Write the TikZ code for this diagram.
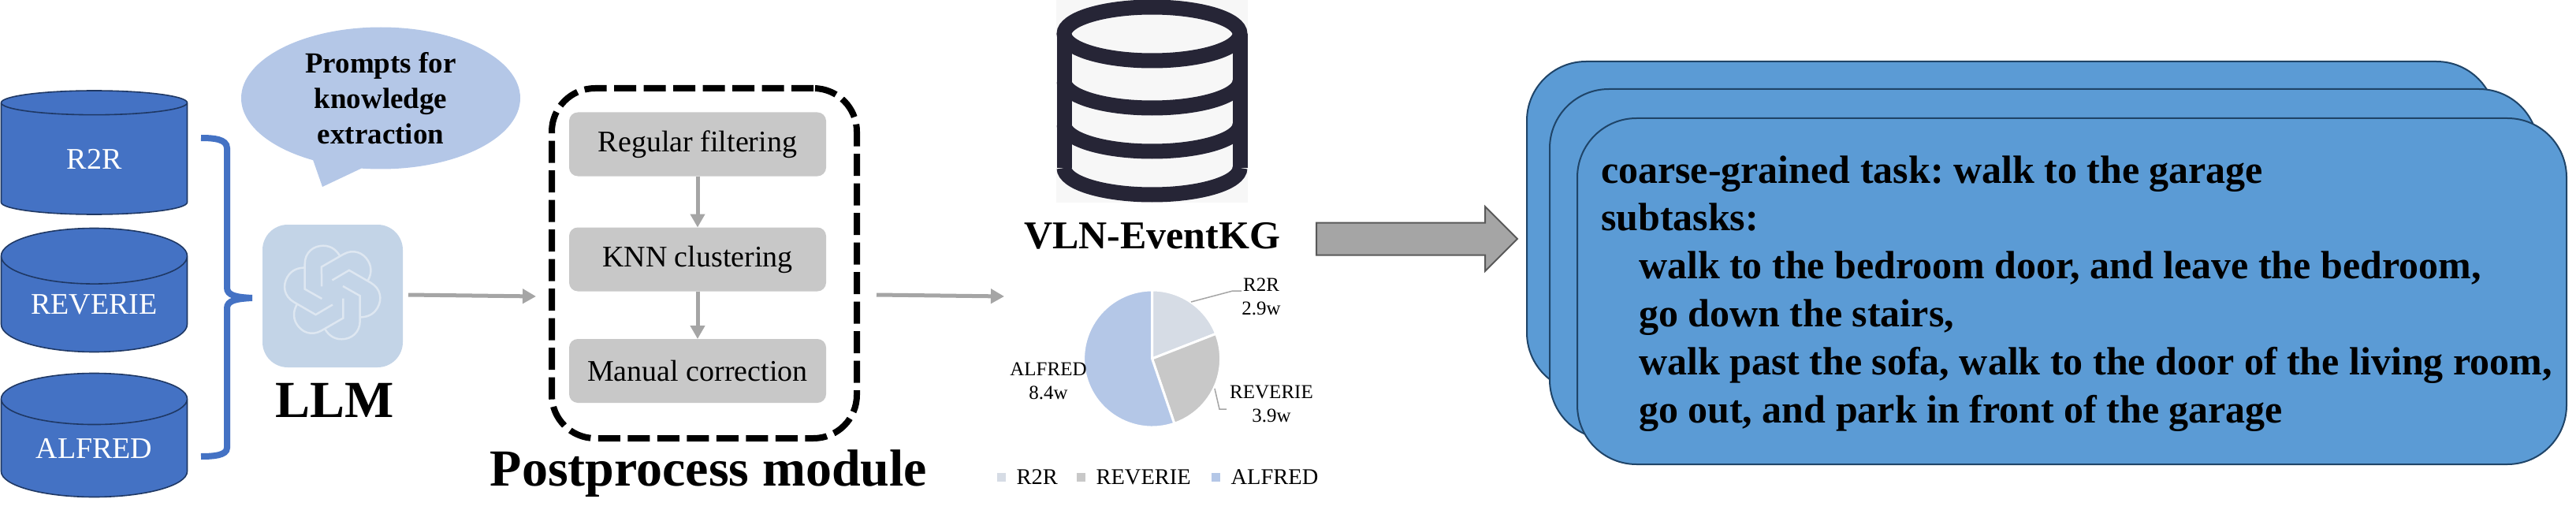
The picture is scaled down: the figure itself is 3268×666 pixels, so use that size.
\documentclass[tikz,border=0pt]{standalone}
\usepackage{fontspec}
\setmainfont{Liberation Serif}
\usepackage{tikz}
\usetikzlibrary{arrows.meta,shapes.geometric,shapes.callouts,shapes.arrows}

\definecolor{dbblue}{HTML}{4472C4}
\definecolor{dbedge}{HTML}{1F3864}
\definecolor{softblue}{HTML}{B4C7E7}
\definecolor{palegray}{HTML}{D6DCE5}
\definecolor{stepgray}{HTML}{C8C8C8}
\definecolor{arrowgray}{HTML}{A5A5A5}
\definecolor{llmback}{HTML}{C3D4E7}
\definecolor{llmline}{HTML}{DEE7F1}
\definecolor{kgink}{HTML}{262536}
\definecolor{cardblue}{HTML}{5B9BD5}
\definecolor{cardedge}{HTML}{1F4468}

\frenchspacing
\begin{document}
\begin{tikzpicture}[x=1pt,y=1pt,
  every node/.style={inner sep=0pt,outer sep=0pt},
  dbstore/.style={cylinder,shape border rotate=90,aspect=0.44,draw=dbedge,fill=dbblue,line width=1.6pt,
    minimum width=236pt,minimum height=157pt,text=white,font=\fontsize{38}{38}\selectfont},
  stepbox/.style={fill=stepgray,rounded corners=11pt,minimum width=326pt,minimum height=81pt,font=\fontsize{38}{38}\selectfont},
  flowline/.style={draw=arrowgray,line width=5pt,-{Triangle[length=17pt,width=18pt]}},
  leader/.style={draw=arrowgray,line width=1.5pt},
  kgline/.style={draw=kgink,line width=19pt},
  card/.style={draw=cardedge,fill=cardblue,line width=2pt,rounded corners=75pt},
  pielabel/.style={align=center,font=\fontsize{25}{30}\selectfont},
  title/.style={font=\fontsize{66}{66}\selectfont\bfseries}]

\useasboundingbox (0,-666) rectangle (3268,0);

\newcommand\legenditem[4]{
  \node[fill=#2,minimum width=11pt,minimum height=11pt] (#1mark) at (#3,-605) {};
  \node[anchor=west,font=\fontsize{28.5}{30}\selectfont] (#1text) at (#3+19,-605) {#4};
}

% data sets
\node[dbstore,anchor=shape center] (r2r) at (119.5,-193.5) {R2R};
\node[dbstore,anchor=shape center] (reverie) at (119.5,-368) {REVERIE};
\node[dbstore,anchor=shape center] (alfred) at (119.5,-552) {ALFRED};
\draw[dbblue,line width=8pt] (255,-175) .. controls (270,-175) and (288,-176) .. (288,-188) -- (288,-365)
  .. controls (288,-375) and (300,-377) .. (320,-378) .. controls (300,-379) and (288,-381) .. (288,-391)
  -- (288,-568) .. controls (288,-578) and (270,-579) .. (255,-579);

% prompt and llm
\node[ellipse callout,fill=softblue,minimum width=354pt,minimum height=180pt,callout absolute pointer={(409,-237)},
  callout pointer arc=21,align=center,font=\fontsize{37}{45}\selectfont\bfseries] (prompt) at (483,-124.5) {Prompts for\\knowledge\\extraction};
\node[fill=llmback,rounded corners=32pt,minimum width=178pt,minimum height=181pt] (llmicon) at (422,-375.5) {};
\foreach \a in {0,60,...,300} {
  \draw[llmline,line width=2.5pt,shift={(421.7,-371)},rotate=\a] (-13.3,-8) -- (-35,4.3) -- (-35,36)
    .. controls (-35,51) and (-24,59.3) .. (-11.7,59.3) .. controls (-1,59.3) and (6,53) .. (10,45.3);
}
\node[title,anchor=base] (llmtitle) at (425,-529) {LLM};

% postprocess module
\node[draw=black,line width=8pt,dash pattern=on 28pt off 9.5pt,rounded corners=55pt,minimum width=387pt,minimum height=444pt] (postbox) at (893.5,-334) {};
\node[stepbox] (filtering) at (885,-183) {Regular filtering};
\node[stepbox] (knn) at (885,-329) {KNN clustering};
\node[stepbox] (manual) at (885,-470.5) {Manual correction};
\draw[flowline] (filtering) -- (knn);
\draw[flowline] (knn) -- (manual);
\node[title,anchor=base] (posttitle) at (899,-616) {Postprocess module};

\coordinate (llmout) at (518,-374);
\coordinate (postin) at (680,-376);
\coordinate (postout) at (1112,-374);
\coordinate (kgin) at (1274,-376);
\draw[flowline] (llmout) -- (postin);
\draw[flowline] (postout) -- (kgin);

% knowledge graph icon
\fill[black!3] (1340,0) rectangle (1583,-257);
\draw[kgline] (1461.5,-43) ellipse [x radius=111.5pt,y radius=34pt];
\draw[kgline] (1350,-43) -- (1350,-213);
\draw[kgline] (1573,-43) -- (1573,-213);
\foreach \y in {103,158,213} {
  \draw[kgline] (1350,-\y) arc[start angle=180,end angle=360,x radius=111.5pt,y radius=34pt];
}
\node[font=\fontsize{50}{50}\selectfont\bfseries,anchor=base] (kgtitle) at (1461.5,-315) {VLN-EventKG};

% share of events
\coordinate (pie) at (1461.6,-455);
\fill[palegray,draw=white,line width=3pt] (pie) -- ++(90:87pt) arc[start angle=90,end angle=21.3,radius=87pt] -- cycle;
\fill[stepgray,draw=white,line width=3pt] (pie) -- ++(21.3:87pt) arc[start angle=21.3,end angle=-71.1,radius=87pt] -- cycle;
\fill[softblue,draw=white,line width=3pt] (pie) -- ++(-71.1:87pt) arc[start angle=-71.1,end angle=-270,radius=87pt] -- cycle;
\node[pielabel] (r2rshare) at (1600,-376) {R2R\\2.9w};
\node[pielabel] (revshare) at (1613,-512.5) {REVERIE\\3.9w};
\node[pielabel] (alfshare) at (1330,-483) {ALFRED\\8.4w};
\coordinate (r2rslice) at (1511,-383);
\coordinate (revslice) at (1541,-493);
\draw[leader] (r2rslice) -- (1564,-369) -- (1575,-369);
\draw[leader] (revslice) -- (1547,-519) -- (1556,-519);
\legenditem{r2r}{palegray}{1270.5}{R2R}
\legenditem{rev}{stepgray}{1371.5}{REVERIE}
\legenditem{alf}{softblue}{1542.5}{ALFRED}

% result
\node[single arrow,draw=black!65,fill=arrowgray,line width=2pt,minimum height=255pt,minimum width=80pt,anchor=tail,
  inner xsep=0pt,inner ysep=19.5pt,single arrow head extend=20.5pt,single arrow tip angle=90] (kgarrow) at (1670,-303) {};
\draw[card] (1937,-78) rectangle (3166,-497);
\draw[card] (1966,-113) rectangle (3220,-557);
\draw[card] (2001,-150) rectangle (3256,-589);
\node[anchor=base west,align=left,font=\fontsize{50}{60.8}\selectfont\bfseries] (tasktext) at (2031,-536) {coarse-grained task: walk to the garage\\
  subtasks:\\
  \hspace*{48pt}walk to the bedroom door, and leave the bedroom,\\
  \hspace*{48pt}go down the stairs,\\
  \hspace*{48pt}walk past the sofa, walk to the door of the living room,\\
  \hspace*{48pt}go out, and park in front of the garage};

\end{tikzpicture}
\end{document}
